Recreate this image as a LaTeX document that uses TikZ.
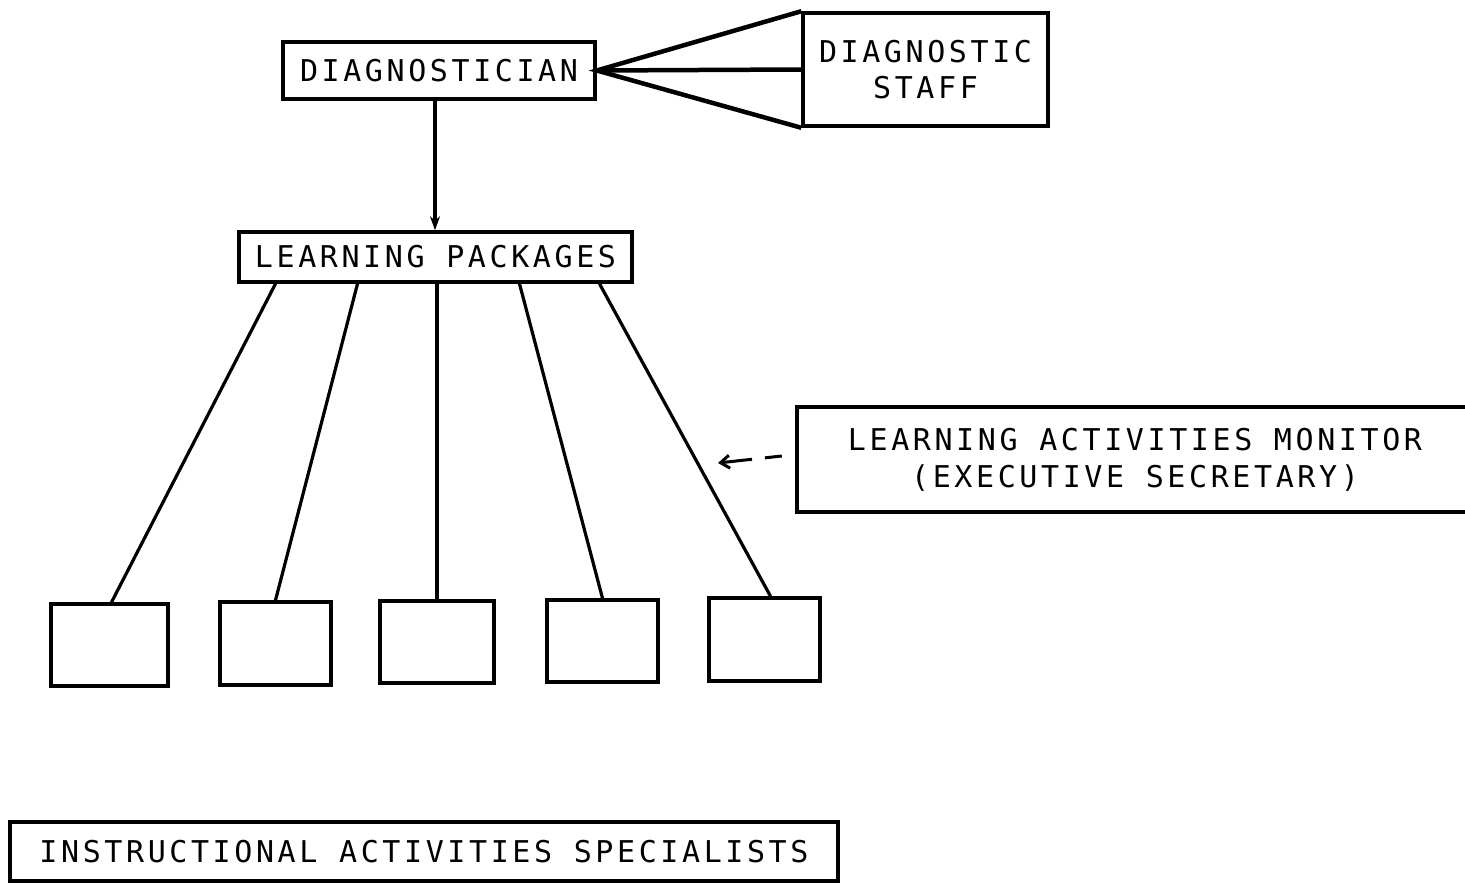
\documentclass[tikz,border=0pt]{standalone}
\usepackage{fontspec}
\usetikzlibrary{arrows.meta}
\newfontfamily\labfont[LetterSpace=12]{DejaVu Sans Mono}
\tikzset{
  box/.style={draw, line width=3.5pt, inner sep=0pt, align=center,
    font=\labfont\fontsize{30pt}{36pt}\selectfont},
  plain/.style={inner sep=0pt, align=center,
    font=\labfont\fontsize{30pt}{37pt}\selectfont},
  conn/.style={line width=3.2pt},
  fork/.style={line width=4.5pt},
}
\begin{document}
\begin{tikzpicture}[x=1pt,y=-1pt]
\useasboundingbox[fill=white] (0,0) rectangle (1465,883);

\node[box, minimum width=312pt, minimum height=57pt] (diag) at (439,70.5) {DIAGNOSTICIAN};
\node[box, minimum width=245pt, minimum height=113pt] (staff) at (925.5,69.5) {DIAGNOSTIC\\STAFF};
\node[box, minimum width=393pt, minimum height=50pt] (lp) at (435.5,257) {LEARNING PACKAGES};

\node[box, minimum width=117pt, minimum height=82pt] (b1) at (109.5,645) {};
\node[box, minimum width=111pt, minimum height=83pt] (b2) at (275.5,643.5) {};
\node[box, minimum width=114pt, minimum height=82pt] (b3) at (437,642) {};
\node[box, minimum width=111pt, minimum height=82pt] (b4) at (602.5,641) {};
\node[box, minimum width=111pt, minimum height=83pt] (b5) at (764.5,639.5) {};

\node[plain, minimum width=676pt, minimum height=105pt] (mon) at (1135,459.5)
  {LEARNING ACTIVITIES MONITOR\\(EXECUTIVE SECRETARY)};
\draw[line width=3.5pt] (mon.north east) -- (mon.north west) -- (mon.south west) -- (mon.south east);

\node[box, minimum width=828pt, minimum height=59pt] (inst) at (424,851.5) {INSTRUCTIONAL ACTIVITIES SPECIALISTS};

% fork to diagnostic staff
\draw[fork, line join=miter] (staff.north west) -- (diag.east) -- (staff.south west);
\draw[fork] (diag.east) -- (staff.west);

% arrow to learning packages
\draw[conn, -{Stealth[length=14pt,width=10pt]}] (diag.south -| 435,0) -- (lp.north -| 435,0);

% learning packages to boxes
\draw[conn] ([xshift=-160pt]lp.south) -- ([xshift=2pt]b1.north);
\draw[conn] ([xshift=-78pt]lp.south) -- (b2.north);
\draw[conn] (lp.south -| b3.north) -- (b3.north);
\draw[conn] ([xshift=84pt]lp.south) -- (b4.north);
\draw[conn] ([xshift=164pt]lp.south) -- ([xshift=6pt]b5.north);

% monitor dashed arrow
\coordinate (montip) at (718,463);
\draw[line width=3pt, dash pattern=on 17pt off 13pt on 40pt, -{Straight Barb[length=9pt,width=13pt]}]
  ([xshift=-15pt,yshift=3.5pt]mon.west) -- (montip);
\end{tikzpicture}
\end{document}
